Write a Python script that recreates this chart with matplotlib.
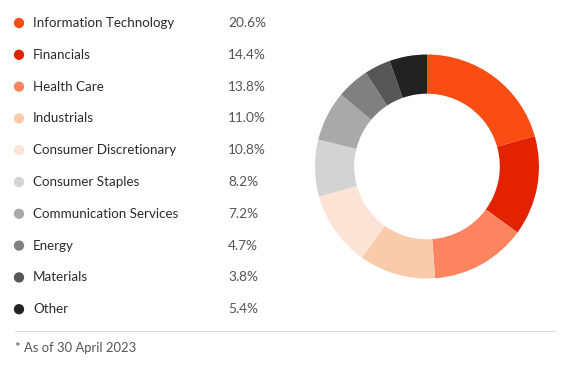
import matplotlib
matplotlib.use("Agg")
import matplotlib.pyplot as plt

sectors = ["Information Technology", "Financials", "Health Care", "Industrials",
           "Consumer Discretionary", "Consumer Staples", "Communication Services",
           "Energy", "Materials", "Other"]
weights = [20.6, 14.4, 13.8, 11.0, 10.8, 8.2, 7.2, 4.7, 3.8, 5.4]
colours = ["#fa4d14", "#e32200", "#fc8460", "#f9cbaa", "#fce3d6",
           "#d3d3d3", "#a9a9a9", "#808080", "#565656", "#222222"]
footnote = "* As of 30 April 2023"

plt.rcParams['font.family'] = ['Lato', 'DejaVu Sans']

W, H = 572, 365
fig = plt.figure(figsize=(W / 100, H / 100), dpi=100)

# text panel in pixel coordinates
ax = fig.add_axes([0, 0, 1, 1])
ax.set_xlim(0, W)
ax.set_ylim(H, 0)
ax.axis("off")

row_y = 23
for name, val, c in zip(sectors, weights, colours):
    ax.scatter(19, row_y, s=55, color=c, edgecolors="none")
    ax.text(33, row_y, name, va="center", ha="left", fontsize=9.6, color="#2b2b2b")
    ax.text(228, row_y, "%.1f%%" % val, va="center", ha="left", fontsize=9.8, color="#555555")
    row_y += 31.8

ax.plot([15, 556], [331, 331], color="#dddddd", lw=0.8)
ax.text(15, 348, footnote, va="center", ha="left", fontsize=9.4, color="#555555")

# donut
cx, cy, r = 427, 166.5, 112
pie_ax = fig.add_axes([(cx - r) / W, 1 - (cy + r) / H, 2 * r / W, 2 * r / H])
pie_ax.pie(weights, colors=colours, startangle=90, counterclock=False,
           wedgeprops=dict(width=0.35, edgecolor="none"))
pie_ax.set_xlim(-1, 1)
pie_ax.set_ylim(-1, 1)
pie_ax.set_aspect("equal")

fig.savefig("out.png", dpi=100)
